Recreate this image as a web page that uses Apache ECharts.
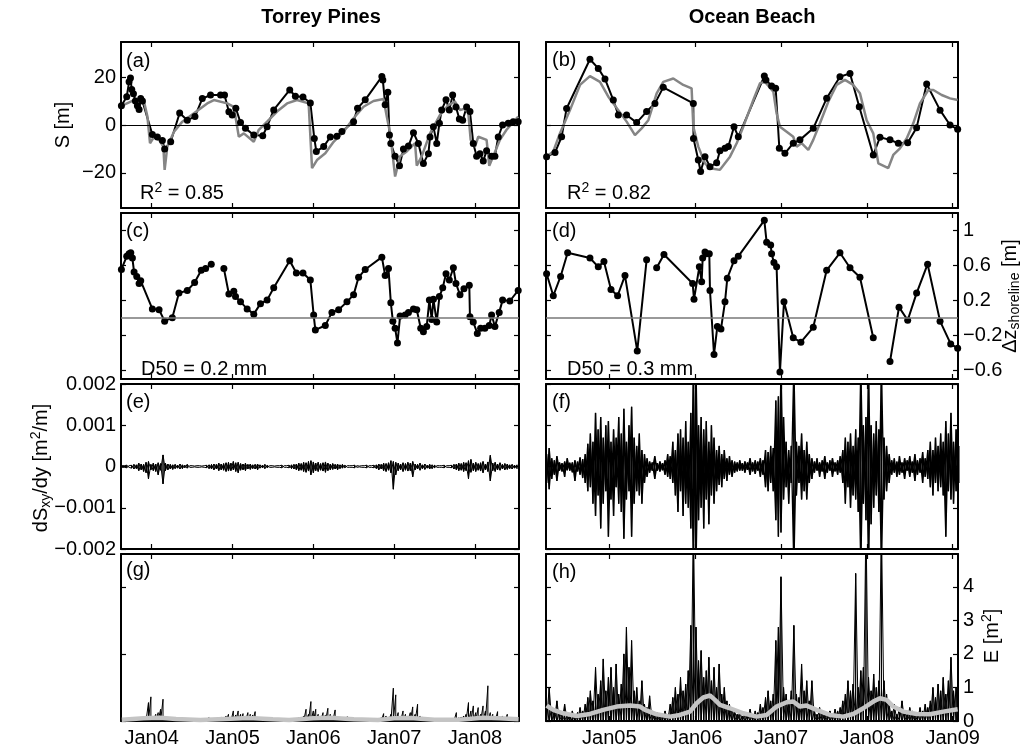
<!DOCTYPE html>
<html>
<head>
<meta charset="utf-8">
<script src="https://cdn.jsdelivr.net/npm/echarts@6/dist/echarts.min.js"></script>
<style>
html, body { margin: 0; padding: 0; background: #fff; }
#chart { width: 1031px; height: 753px; }
</style>
</head>
<body>
<div id="chart"></div>
<script>
// ---- data (time in decimal years) ----
// (a) Torrey Pines shoreline S [m]: observed (black) and model (gray)
const aBlackT = [2003.625,2003.691,2003.72,2003.737,2003.753,2003.774,2003.798,2003.823,2003.844,2003.864,2003.885,2004.008,2004.07,2004.132,2004.16,2004.235,2004.346,2004.44,2004.535,2004.626,2004.728,2004.852,2004.901,2004.955,2004.996,2005.041,2005.099,2005.16,2005.263,2005.374,2005.428,2005.51,2005.708,2005.778,2005.872,2005.963,2006.012,2006.037,2006.128,2006.21,2006.292,2006.354,2006.498,2006.547,2006.642,2006.848,2006.86,2006.889,2006.922,2006.942,2006.959,2007.012,2007.066,2007.115,2007.177,2007.239,2007.3,2007.362,2007.424,2007.444,2007.486,2007.527,2007.56,2007.588,2007.642,2007.683,2007.724,2007.765,2007.807,2007.848,2007.897,2007.938,2007.979,2008.021,2008.062,2008.103,2008.144,2008.206,2008.247,2008.288,2008.342,2008.412,2008.473,2008.535];
const aBlackS = [8,11.8,18,19.6,14.8,13,10,8,6.5,11,10,-4,-5,-6.5,-10,-7,5,2,3.5,11,12.5,12.5,12.5,5.5,4.2,7,1,-1.4,-4.2,-4.5,-0.7,6.3,14.6,12,11.7,9.2,-5.6,-11,-9,-5,-4.7,-2.7,1.4,7,10.5,20.2,18.8,8.4,13.7,-4.2,-7.7,-13,-17,-10,-8.8,-3.2,-7.7,-16,-12,-5,-0.7,-7.7,0.7,6.3,10.5,6.3,12.5,7.5,2.5,2,7.5,5.6,-7.7,-13,-12,-15,-10.7,-13,-13,-5,0,0.7,1.4,1.4];
const aGrayT = [2003.625,2003.782,2003.905,2003.947,2003.979,2004.029,2004.091,2004.144,2004.16,2004.193,2004.276,2004.379,2004.523,2004.687,2004.77,2004.934,2005.016,2005.078,2005.14,2005.263,2005.325,2005.428,2005.551,2005.675,2005.798,2005.942,2005.984,2006.045,2006.148,2006.251,2006.374,2006.498,2006.621,2006.745,2006.868,2006.909,2006.951,2007.012,2007.074,2007.156,2007.259,2007.28,2007.342,2007.444,2007.568,2007.671,2007.753,2007.815,2007.877,2007.918,2007.947,2008.0,2008.041,2008.144,2008.177,2008.226,2008.309,2008.391,2008.535];
const aGrayS = [8,10.4,9.7,3.5,-7.6,-4.9,-6.2,-9,-18.7,-9,-2.8,1.4,4.9,9,10.4,9,7.6,-4.9,-3.5,-7,-2,1.4,5.6,9,10.4,9,-18,-14.6,-11.8,-7,-2.8,2.8,7.6,10,10.8,3.5,-3.5,-21.5,-13,-11,-7.6,-17,-13,-3.5,4.2,8.3,9.7,6.2,6.9,4.9,-6.2,-9,-4.9,-6.2,-17,-13,-6.2,-2,3.5];

// (b) Ocean Beach shoreline S [m]
const bBlackT = [2004.27,2004.368,2004.445,2004.503,2004.775,2004.872,2004.95,2005.047,2005.105,2005.202,2005.319,2005.435,2005.532,2005.629,2005.979,2005.981,2006.037,2006.064,2006.115,2006.173,2006.251,2006.289,2006.348,2006.387,2006.453,2006.503,2006.806,2006.825,2006.891,2006.938,2006.981,2007.046,2007.143,2007.221,2007.376,2007.532,2007.687,2007.804,2007.912,2008.075,2008.153,2008.27,2008.367,2008.476,2008.58,2008.697,2008.853,2008.969,2009.058];
const bBlackS = [-13.2,-11.5,-4.9,6.9,27.4,23.6,19.2,10.4,4.2,4.2,1,5.6,9,15.7,9,-5.6,-14.6,-19.4,-13.2,-17.4,-15.7,-10.7,-9.7,-9,-0.7,-4.9,20.4,18.8,16.3,15.3,-9.7,-11.8,-7.6,-6.2,-1.4,11.1,20.1,21.5,7.6,-12.5,-5.1,-6.2,-7.6,-7.4,-1.1,17.1,6.2,0,-1.8];
const bGrayT = [2004.27,2004.348,2004.425,2004.542,2004.659,2004.775,2004.892,2004.989,2005.105,2005.202,2005.299,2005.377,2005.455,2005.552,2005.629,2005.746,2005.862,2005.959,2005.979,2006.037,2006.115,2006.173,2006.289,2006.406,2006.484,2006.561,2006.678,2006.756,2006.814,2006.911,2006.949,2006.988,2007.066,2007.143,2007.182,2007.24,2007.318,2007.376,2007.454,2007.551,2007.648,2007.745,2007.842,2007.92,2007.998,2008.075,2008.134,2008.25,2008.308,2008.386,2008.464,2008.541,2008.619,2008.716,2008.775,2008.872,2008.969,2009.058];
const bGrayS = [-13.2,-11,-3.5,6.2,16.7,20.4,18,11.8,6.2,1.4,-4.2,-1.4,2,13.2,18,19.4,16.7,15.3,-0.7,-9,-16,-18,-18.7,-13.2,-7.6,-0.7,10.4,17.4,18,13.9,4.9,-0.7,-2.8,-4.9,-9,-7.6,-10.4,-6.2,0.7,9.7,16.7,18.8,16.7,13.2,2,-3.5,-16,-18,-12.5,-9.7,-5.6,0.7,9,14.6,14.6,12.5,11.1,10.4];

// (c), (d) shoreline elevation change [m]; null = gap in survey
const cT = [2003.625,2003.691,2003.72,2003.741,2003.761,2003.782,2003.815,2003.844,2003.864,2004.008,2004.091,2004.16,2004.255,2004.337,2004.44,2004.531,2004.613,2004.667,2004.737,2004.8,2004.893,2004.955,2005.016,2005.037,2005.099,2005.181,2005.263,2005.346,2005.428,2005.51,2005.708,2005.79,2005.872,2005.963,2006.004,2006.025,2006.148,2006.23,2006.313,2006.416,2006.498,2006.56,2006.642,2006.848,2006.889,2006.93,2006.959,2006.984,2007.012,2007.041,2007.074,2007.136,2007.177,2007.239,2007.28,2007.329,2007.362,2007.403,2007.436,2007.465,2007.486,2007.527,2007.56,2007.601,2007.642,2007.683,2007.733,2007.765,2007.815,2007.864,2007.93,2007.938,2007.979,2008.029,2008.07,2008.123,2008.177,2008.206,2008.247,2008.3,2008.342,2008.432,2008.535];
const cDz = [0.55,0.70,0.73,0.74,0.68,0.52,0.47,0.39,0.42,0.10,0.09,-0.04,0.0,0.28,0.31,0.40,0.54,0.56,0.61,null,0.56,0.27,0.30,0.24,0.18,0.10,0.04,0.16,0.20,0.34,0.65,0.51,0.51,0.43,0.03,-0.14,-0.09,0.06,0.09,0.18,0.26,0.46,0.55,0.69,0.48,0.56,0.17,-0.04,-0.12,-0.29,0.02,0.03,0.06,0.10,0.09,-0.12,-0.16,-0.10,0.20,-0.02,0.21,-0.05,0.24,0.34,0.50,0.43,0.57,0.39,0.26,0.33,0.37,0.01,-0.05,-0.18,-0.12,-0.12,-0.09,0.03,-0.10,0.06,0.20,0.19,0.31];
const dT = [2004.27,2004.348,2004.433,2004.515,2004.775,2004.872,2004.938,2005.02,2005.097,2005.183,2005.326,2005.435,2005.49,2005.552,2005.637,2005.971,2005.987,2006.049,2006.076,2006.088,2006.115,2006.134,2006.165,2006.173,2006.22,2006.259,2006.301,2006.348,2006.375,2006.453,2006.503,2006.806,2006.833,2006.88,2006.891,2006.918,2006.949,2006.988,2007.035,2007.143,2007.232,2007.376,2007.532,2007.687,2007.804,2007.92,2008.075,2008.17,2008.27,2008.375,2008.476,2008.58,2008.708,2008.853,2008.977,2009.058];
const dDz = [0.50,0.25,0.47,0.74,0.68,0.58,0.64,0.32,0.25,0.48,-0.38,0.66,null,0.57,0.72,0.39,0.21,0.58,0.41,0.68,0.75,0.73,0.73,0.31,-0.42,-0.10,-0.13,0.18,0.45,0.65,0.70,1.11,0.86,0.83,0.73,0.63,0.58,-0.62,0.18,-0.23,-0.28,-0.11,0.54,0.74,0.57,0.46,-0.23,null,-0.50,0.12,-0.03,0.28,0.61,-0.04,-0.30,-0.35];

// (e), (f) dSxy/dy, sampled every dt years, in units of 1e-5 m^2/m (upper / lower excursion per sample)
const eT0 = 2003.63, eDt = 0.03;
const eHi = [2,2,3,2, 3,5,4,8,6,5,10,12,5,8,6,9,7,28,8,6,5,4,5,3,6,4,3,5, 2,2,1,2,2,1,2, 3,4,5,6,5,8,6,7,9,10,8,12,9,10,7,6,8,5,6,4,5,6,4,3,5,3, 2,2,1,2,2,3,2,2,3, 4,5,6,8,7,10,9,12,14,11,8,10,7,9,11,8,6,7,5,6,4,5,3, 2,2,2,3,2,1,2,2,3,2,2,3, 4,6,5,8,7,9,14,12,10,8,6,9,7,10,8,12,6,5,8,4,6,3,5,4,3,2, 2,2,3,2,2,3, 5,6,8,7,10,9,14,17,8,10,7,9,12,6,11,27,8,10,6,9,5,7,6,4,5,3,4];
const eLo = [-2,-2,-3,-2, -4,-6,-5,-10,-8,-12,-15,-30,-8,-10,-12,-20,-9,-42,-10,-8,-6,-7,-5,-4,-6,-5,-3,-4, -2,-2,-1,-2,-2,-1,-2, -3,-5,-6,-8,-6,-10,-8,-9,-12,-11,-10,-8,-12,-15,-9,-8,-10,-6,-7,-5,-6,-8,-4,-3,-5,-3, -2,-2,-1,-2,-2,-3,-2,-2,-3, -5,-6,-8,-10,-9,-12,-14,-11,-20,-15,-10,-12,-9,-11,-14,-10,-8,-7,-6,-8,-5,-4,-3, -2,-2,-2,-3,-2,-1,-2,-2,-3,-2,-2,-3, -5,-8,-6,-10,-12,-9,-15,-55,-20,-10,-8,-12,-9,-11,-10,-25,-8,-6,-9,-5,-7,-4,-6,-5,-3,-2, -2,-2,-3,-2,-2,-3, -6,-8,-10,-9,-12,-10,-30,-14,-10,-12,-9,-11,-15,-8,-12,-35,-10,-12,-8,-9,-6,-8,-7,-5,-6,-4,-5];
const fT0 = 2004.27, fDt = 0.03;
const fHi = [30,45,20,15,25, 10,8,12,20,9,10,15,12,22,18, 30,55,80,60,130,90,120,70,100,110,60,90,70,120,80,140,60,100,145,70,50,80,40,30, 20,12,10,25,8,12,8,15,30, 25,60,40,80,90,70,110,60,130,250,250,100,120,90,110,60,100,70,40,50,30,40,20,25,15,12, 10,15,8,12,10,20,10,15,12,20,15, 40,35,50,45,160,170,250,120,60,40,50,250,60,50,80,40,60,30,20, 12,20,10,15,25,10,15,20,10,15,25, 40,70,60,80,50,90,70,250,100,120,250,100,80,110,90,250,70,50,30, 15,20,12,25,10,20,15,25,12,30,15,20,35,20,40, 60,40,70,50,80,60,110,80,130,60,90,50];
const fLo = [-40,-55,-30,-20,-35, -10,-12,-25,-9,-10,-14,-35,-12,-20,-28, -40,-60,-50,-90,-120,-70,-150,-90,-60,-170,-80,-120,-50,-90,-110,-175,-80,-60,-170,-90,-60,-70,-90,-40, -25,-15,-10,-30,-10,-12,-9,-20,-25, -30,-40,-70,-110,-60,-120,-90,-100,-150,-250,-250,-130,-100,-150,-80,-140,-70,-90,-60,-45,-50,-30,-35,-20,-25,-15, -12,-10,-10,-15,-8,-20,-12,-18,-10,-25,-20, -50,-60,-40,-60,-130,-170,-160,-80,-50,-90,-40,-250,-70,-40,-80,-60,-80,-40,-30, -15,-10,-25,-12,-30,-15,-10,-25,-12,-20,-15, -40,-90,-50,-100,-70,-80,-110,-250,-90,-130,-250,-140,-100,-70,-110,-250,-80,-60,-40, -20,-15,-25,-20,-15,-30,-10,-25,-15,-35,-20,-15,-40,-25,-30, -50,-70,-40,-60,-50,-70,-170,-60,-80,-90,-60,-40];

// (g), (h) E [m^2], sampled every dt years, plus smoothed envelope (gray)
const gT0 = 2003.63, gDt = 0.03;
const gE = [0.02,0.01,0.02,0.03,0.02,0.05,0.03,0.02,0.08,0.04, 0.15,0.55,0.72,0.12,0.2,0.25,0.35,0.65,0.1,0.08, 0.06,0.05,0.04,0.08,0.05,0.03,0.06,0.02,0.03,0.02, 0.01,0.02,0.02,0.03,0.05,0.04,0.1,0.04,0.06,0.05, 0.08,0.12,0.1,0.15,0.2,0.12,0.3,0.18,0.3,0.2, 0.22,0.15,0.25,0.2,0.18,0.28,0.12,0.08,0.1,0.05, 0.03,0.02,0.02,0.01,0.02,0.03,0.02,0.04,0.05,0.06, 0.05,0.08,0.06,0.1,0.12,0.15,0.35,0.2,0.58,0.3, 0.35,0.2,0.15,0.25,0.18,0.38,0.2,0.15,0.33,0.12, 0.08,0.06,0.05,0.13,0.04,0.03,0.02,0.02,0.01,0.02, 0.02,0.03,0.02,0.04,0.05,0.06,0.08,0.1,0.22,0.15, 0.12,0.2,0.98,0.78,0.25,0.15,0.3,0.2,0.15,0.25, 0.42,0.2,0.5,0.15,0.12,0.08,0.1,0.06,0.05,0.04, 0.03,0.02,0.03,0.02,0.04,0.05,0.06,0.08,0.25,0.1, 0.12,0.15,0.2,0.55,0.3,0.45,0.25,0.4,0.2,0.45, 0.3,1.05,0.25,0.2,0.15,0.28,0.1,0.15,0.08,0.2, 0.1,0.06,0.05,0.04];
const gSmoothT = [2003.63,2003.9,2004.1,2004.3,2004.6,2004.9,2005.2,2005.5,2005.7,2006.0,2006.2,2006.5,2006.8,2007.0,2007.2,2007.5,2007.8,2008.1,2008.3,2008.54];
const gSmoothE = [0.04,0.08,0.1,0.06,0.03,0.06,0.09,0.05,0.03,0.08,0.1,0.05,0.03,0.08,0.09,0.04,0.04,0.1,0.08,0.05];
const hT0 = 2004.27, hDt = 0.03;
const hE = [0.5,1.0,0.4,0.3,0.6, 0.3,0.2,0.5,0.2,0.15,0.3,0.2,0.25,0.4,0.3, 0.5,0.7,0.9,0.6,1.6,0.8,1.2,1.85,0.9,1.3,1.6,1.0,1.7,0.8,1.1,2.0,2.8,1.6,2.4,0.9,1.0,0.6,1.2,0.5, 0.4,0.75,0.3,0.2,0.25,0.15,0.2,0.3,0.2, 0.5,0.7,1.0,0.8,1.3,0.9,1.1,1.5,2.85,6.0,2.8,1.8,2.1,1.3,1.5,1.9,1.2,1.6,1.0,1.7,0.8,1.0,0.6,0.5,0.4,0.3, 0.2,0.3,0.15,0.25,0.2,0.35,0.2,0.3,0.25,0.5,0.4, 0.7,0.9,0.6,0.8, 2.4,2.8,4.3, 1.0,0.8,0.6,0.9,2.85,0.8,0.7,1.7,0.9,1.2,0.6,1.2, 0.3,0.2,0.4,0.3,0.2,0.25,0.3,0.2,0.35,0.3,0.4, 0.6,0.8,1.2,0.9,1.1,4.4,1.0,1.5,1.6,6.0,1.3,0.9,1.4,1.0,1.2,6.0,1.2,0.8,0.5, 0.3,0.5,0.2,0.4,0.6,0.3,0.2,0.4,0.3,0.2,0.25,0.4,0.3,0.5,0.4, 0.6,1.0,0.7,1.1,0.9,1.3,0.8,1.2,1.9,0.9,1.0,0.7];
const hSmoothT = [2004.27,2004.348,2004.464,2004.62,2004.775,2004.93,2005.086,2005.241,2005.358,2005.416,2005.552,2005.707,2005.823,2005.94,2006.018,2006.095,2006.173,2006.231,2006.289,2006.406,2006.561,2006.717,2006.833,2006.949,2007.066,2007.143,2007.221,2007.299,2007.415,2007.571,2007.726,2007.842,2007.959,2008.075,2008.153,2008.23,2008.308,2008.425,2008.58,2008.736,2008.891,2009.058];
const hSmoothE = [0.46,0.33,0.23,0.15,0.21,0.33,0.43,0.46,0.43,0.33,0.20,0.13,0.18,0.28,0.53,0.70,0.76,0.63,0.48,0.38,0.23,0.13,0.18,0.43,0.56,0.58,0.43,0.46,0.33,0.18,0.13,0.21,0.38,0.58,0.68,0.63,0.43,0.28,0.21,0.20,0.28,0.35];

// ticks
const leftYearTicks = [2004, 2005, 2006, 2007, 2008];
const rightYearTicks = [2005, 2006, 2007, 2008, 2009];
const sTicks = [-20, 0, 20];
const dzTicks = [-0.6, -0.2, 0.2, 0.6, 1];
const dsTicks = [-0.002, -0.001, 0, 0.001, 0.002];
const eTicksRight = [0, 1, 2, 3, 4];
const eTicksLeft = [0, 2, 4];

// ---- helpers ----
const FONT = '"Liberation Sans", Arial, Helvetica, sans-serif';
function pairs(t, v) {
    return t.map(function (x, i) { return [x, v[i] === null ? '-' : v[i]]; });
}
// each sample becomes a vertical stroke; flip=true draws the strokes in the other order (cross-hatch fill)
function spikes(t0, dt, hi, lo, scale, flip) {
    const out = [];
    hi.forEach(function (h, i) {
        const t = t0 + dt * i;
        const a = [t, h * scale], b = [t, lo ? lo[i] * scale : 0];
        if (flip) { out.push(b, a); } else { out.push(a, b); }
    });
    return out;
}
function minus(v) { return String(v).replace('-', '\u2212'); }

const cols = [{left: 121, width: 398, min: 2003.62, max: 2008.545, ticks: leftYearTicks},
              {left: 546, width: 412, min: 2004.263, max: 2009.062, ticks: rightYearTicks}];
const rows = [{top: 42, height: 166, min: -34.6, max: 34.6, ticks: [sTicks, sTicks], lab: 'left'},
              {top: 213, height: 166, min: -0.7, max: 1.194, ticks: [dzTicks, dzTicks], lab: 'right'},
              {top: 384, height: 165, min: -0.002, max: 0.002, ticks: [dsTicks, dsTicks], lab: 'left'},
              {top: 554, height: 167, min: 0, max: 4.98, ticks: [eTicksLeft, eTicksRight], lab: 'right'}];

const grid = [], xAxis = [], yAxis = [];
const lineBox = {show: true, onZero: false, lineStyle: {color: '#000', width: 2}};
const labelFont = {color: '#000', fontSize: 20, fontFamily: FONT};

rows.forEach(function (r, ri) {
    cols.forEach(function (c, ci) {
        const k = ri * 2 + ci;
        grid.push({left: c.left, top: r.top, width: c.width, height: r.height, containLabel: false});
        ['bottom', 'top'].forEach(function (pos) {
            xAxis.push({
                gridIndex: k, type: 'value', position: pos, min: c.min, max: c.max,
                axisLine: lineBox,
                axisTick: {show: true, inside: true, length: 5, customValues: c.ticks, lineStyle: {color: '#000', width: 1.2}},
                axisLabel: Object.assign({show: pos === 'bottom' && ri === 3, customValues: c.ticks, margin: 7,
                    formatter: function (v) { return 'Jan' + String(Math.round(v)).slice(2); }}, labelFont),
                splitLine: {show: false}
            });
        });
        const labSide = ci === 0 ? (r.lab === 'left') : (r.lab === 'right');
        const mainPos = ci === 0 ? 'left' : 'right';
        [mainPos, mainPos === 'left' ? 'right' : 'left'].forEach(function (pos, j) {
            yAxis.push({
                gridIndex: k, type: 'value', position: pos, min: r.min, max: r.max,
                axisLine: lineBox,
                axisTick: {show: true, inside: true, length: 5, customValues: r.ticks[ci], lineStyle: {color: '#000', width: 1.2}},
                axisLabel: Object.assign({show: j === 0 && labSide, customValues: r.ticks[ci], margin: 5, formatter: minus}, labelFont),
                splitLine: {show: false}
            });
        });
    });
});

function ser(k, data, opt) {
    return Object.assign({type: 'line', xAxisIndex: 2 * k, yAxisIndex: 2 * k, data: data, animation: false,
        showSymbol: false, symbol: 'none', connectNulls: false, silent: true}, opt);
}
function zeroLine(color, width) {
    return {silent: true, symbol: 'none', label: {show: false}, animation: false,
        lineStyle: {color: color, width: width, type: 'solid'}, data: [{yAxis: 0}]};
}
const blackDots = {symbol: 'circle', showSymbol: true, symbolSize: 7, itemStyle: {color: '#000'},
    lineStyle: {color: '#000', width: 2}};
const grayLine = {lineStyle: {color: '#858585', width: 2.5}};
const thin = {lineStyle: {color: '#000', width: 1}};
const dense = {lineStyle: {color: '#000', width: 1.3}};
const smooth = {lineStyle: {color: '#c4c4c4', width: 4.5}};

const series = [
    ser(0, pairs(aBlackT, aBlackS), Object.assign({markLine: zeroLine('#000', 1)}, blackDots)),
    ser(0, pairs(aGrayT, aGrayS), grayLine),
    ser(1, pairs(bBlackT, bBlackS), Object.assign({markLine: zeroLine('#000', 1)}, blackDots)),
    ser(1, pairs(bGrayT, bGrayS), grayLine),
    ser(2, pairs(cT, cDz), Object.assign({markLine: zeroLine('#777', 1.5)}, blackDots)),
    ser(3, pairs(dT, dDz), Object.assign({markLine: zeroLine('#777', 1.5)}, blackDots)),
    ser(4, spikes(eT0, eDt, eHi, eLo, 1e-5, false), thin),
    ser(4, spikes(eT0, eDt, eHi, eLo, 1e-5, true), thin),
    ser(5, spikes(fT0, fDt, fHi, fLo, 1e-5, false), dense),
    ser(5, spikes(fT0, fDt, fHi, fLo, 1e-5, true), dense),
    ser(6, spikes(gT0, gDt, gE, null, 1, false), thin),
    ser(6, pairs(gSmoothT, gSmoothE), smooth),
    ser(7, spikes(hT0, hDt, hE, null, 1, false), thin),
    ser(7, spikes(hT0, hDt, hE, null, 1, true), thin),
    ser(7, pairs(hSmoothT, hSmoothE), smooth)
];

// ---- text ----
const rich = {
    m: {fontSize: 20, fontFamily: FONT, lineHeight: 24, verticalAlign: 'middle', fill: '#000'},
    s: {fontSize: 14, fontFamily: FONT, lineHeight: 13, verticalAlign: 'bottom', fill: '#000'},
    p: {fontSize: 14, fontFamily: FONT, lineHeight: 13, verticalAlign: 'top', fill: '#000'},
    b: {fontSize: 20, fontFamily: FONT, fontWeight: 'bold', lineHeight: 24, verticalAlign: 'middle', fill: '#000'}
};
function txt(x, y, text, align, rot) {
    return {type: 'text', x: x, y: y, rotation: rot || 0, silent: true, z: 100,
        style: {text: text, rich: rich, fill: '#000', align: align, textAlign: align,
            verticalAlign: 'middle', textVerticalAlign: 'middle'}};
}
const R90 = Math.PI / 2;
const graphic = [
    txt(321, 17, '{b|Torrey Pines}', 'center'),
    txt(752, 17, '{b|Ocean Beach}', 'center'),
    txt(126, 61, '{m|(a)}', 'left'), txt(552, 60, '{m|(b)}', 'left'),
    txt(126, 231, '{m|(c)}', 'left'), txt(552, 231, '{m|(d)}', 'left'),
    txt(126, 402, '{m|(e)}', 'left'), txt(552, 402, '{m|(f)}', 'left'),
    txt(126, 570, '{m|(g)}', 'left'), txt(552, 572, '{m|(h)}', 'left'),
    txt(140, 193, '{m|R}{p|2}{m| = 0.85}', 'left'),
    txt(567, 193, '{m|R}{p|2}{m| = 0.82}', 'left'),
    txt(141, 369, '{m|D50 = 0.2 mm}', 'left'),
    txt(567, 369, '{m|D50 = 0.3 mm}', 'left'),
    txt(63, 125, '{m|S [m]}', 'center', R90),
    txt(41, 468, '{m|dS}{s|xy}{m|/dy [m}{p|2}{m|/m]}', 'center', R90),
    txt(1010, 296, '{m|\u0394z}{s|shoreline}{m| [m]}', 'center', R90),
    txt(992, 636, '{m|E [m}{p|2}{m|]}', 'center', R90)
];

const chart = echarts.init(document.getElementById('chart'));
chart.setOption({
    animation: false,
    backgroundColor: '#fff',
    grid: grid,
    xAxis: xAxis,
    yAxis: yAxis,
    series: series,
    graphic: graphic
});
</script>
</body>
</html>
